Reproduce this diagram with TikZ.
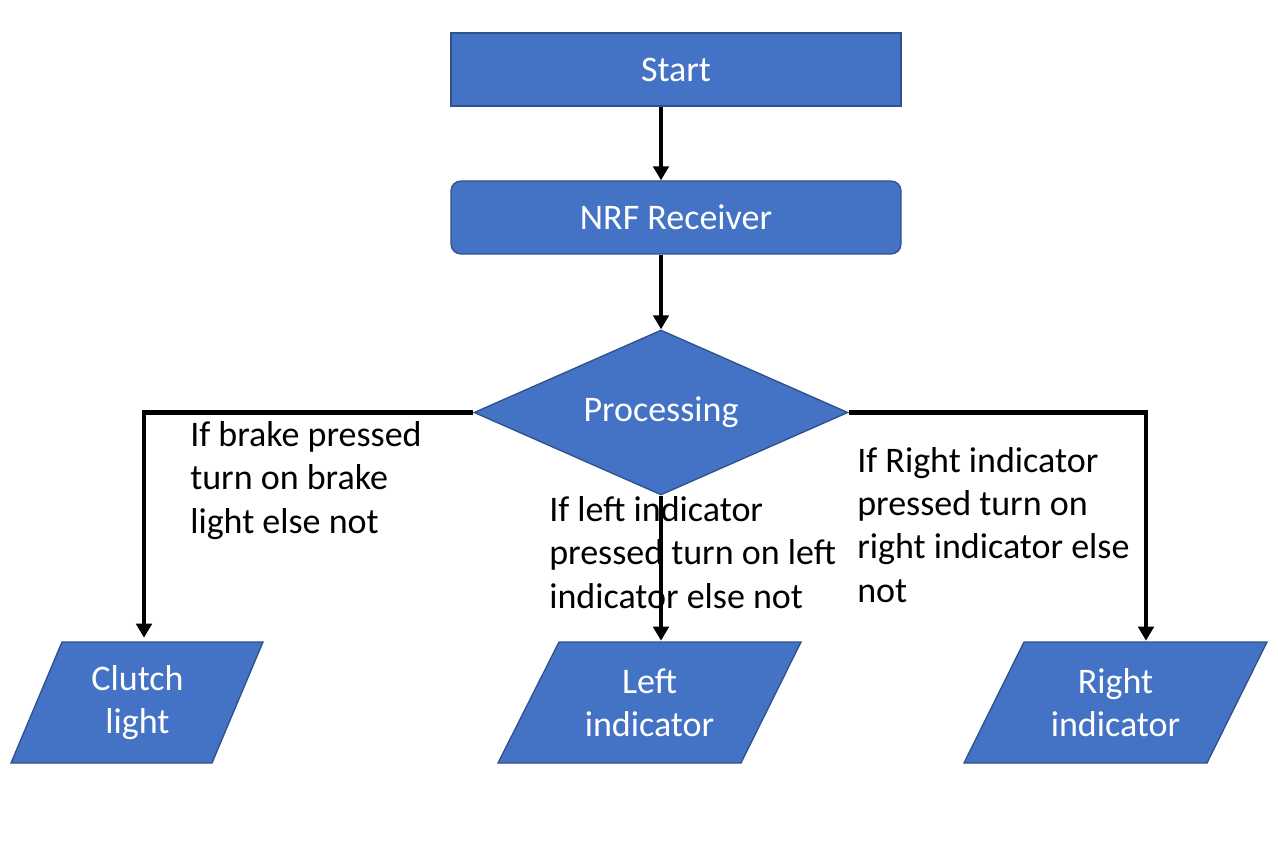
\documentclass[tikz,border=0pt]{standalone}
\usepackage{fontspec}
\setmainfont{Carlito}
\usetikzlibrary{shapes.geometric,arrows.meta,calc}
\definecolor{boxfill}{HTML}{4472C4}
\definecolor{boxline}{HTML}{2F528F}
\begin{document}
\begin{tikzpicture}[x=0.75pt,y=-0.75pt,
  every node/.style={font=\fontsize{27pt}{32.3pt}\selectfont},
  blk/.style={draw=boxline,fill=boxfill,line width=1pt,text=white,inner sep=0pt},
  procbox/.style={blk,rectangle,minimum width=337.5pt,minimum height=54.75pt},
  recvbox/.style={procbox,rounded corners=7.5pt},
  decision/.style={blk,diamond,minimum width=280.5pt,minimum height=123.75pt,aspect=2.27},
  para/.style={draw=boxline,fill=boxfill,line width=1pt,line join=miter},
  iotext/.style={rectangle,inner sep=0pt,minimum height=90.75pt,text=white,align=center},
  lbl/.style={anchor=base west,align=left,inner sep=0pt},
  arr/.style={line width=3.3pt,-{Triangle[length=10.5pt,width=11.5pt]}}]
\useasboundingbox (0,0) rectangle (1278,848);
\node[procbox] (start) at (676,69.5) {\raisebox{-1.5pt}{Start}};
\node[recvbox] (recv) at (676,217.5) {NRF Receiver};
\node[decision] (proc) at (661,412.5) {\raisebox{-2pt}{Processing}};
\draw[para] (62,642) -- (263,642) -- (212,763) -- (11,763) -- cycle;
\draw[para] (559,642) -- (801,642) -- (741,763) -- (498,763) -- cycle;
\draw[para] (1024,642) -- (1267,642) -- (1207,763) -- (964,763) -- cycle;
\node[iotext] (clutch) at (137.5,702.5) {\raisebox{-2pt}{Clutch}\\\raisebox{-2pt}{light}};
\node[iotext] (left) at (649.5,702.5) {Left\\indicator};
\node[iotext] (right) at (1115.5,702.5) {Right\\indicator};
\draw[arr] (start.south -| proc.north) -- (recv.north -| proc.north);
\draw[arr] (recv.south -| proc.north) -- (proc.north);
\draw[arr] (proc.west) -| ($(clutch.north)+(6.5,-4)$);
\draw[arr] (proc.south) -- ($(proc.south |- left.north)+(0,-1)$);
\draw[arr] (proc.east) -| ($(right.north)+(30.5,-1)$);
\node[lbl] (lb1) at (190,533) {If brake pressed\\turn on brake\\light else not};
\node[lbl] (lb2) at (549,608) {If left indicator\\pressed turn on left\\indicator else not};
\node[lbl] (lb3) at (857,602) {If Right indicator\\pressed turn on\\right indicator else\\not};
\end{tikzpicture}
\end{document}
